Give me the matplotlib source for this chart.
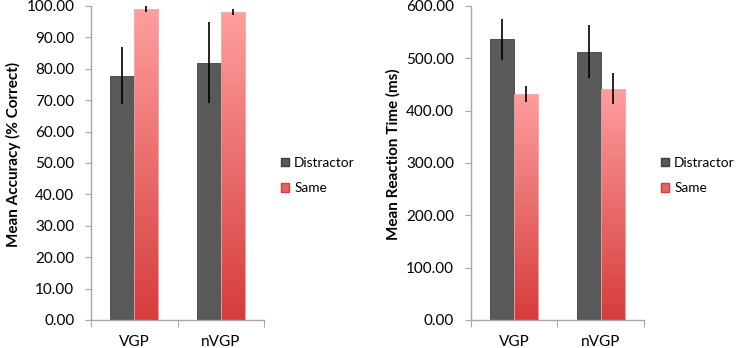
import numpy as np
import matplotlib
matplotlib.use("Agg")
import matplotlib.pyplot as plt
import matplotlib.patches as mpatches
from matplotlib.colors import LinearSegmentedColormap
from matplotlib.ticker import FixedLocator, FormatStrFormatter

# ── Data ────────────────────────────────────────────────────────────────────
groups = ["VGP", "nVGP"]
series = ["Distractor", "Same"]

acc_distractor = [77.8, 82.0]
acc_distractor_err = [9.0, 13.0]
acc_same = [99.0, 98.0]
acc_same_err = [1.0, 0.9]

rt_distractor = [536.0, 513.0]
rt_distractor_err = [39.0, 50.0]
rt_same = [432.0, 442.0]
rt_same_err = [16.0, 30.0]

# ── Style ───────────────────────────────────────────────────────────────────
plt.rcParams.update({
    "font.family": ["Lato", "DejaVu Sans"],
    "axes.spines.top": False,
    "axes.spines.right": False,
})

DARK = "#595959"
DARK_EDGE = "#3f3f3f"
RED_GRAD = LinearSegmentedColormap.from_list("same", ["#d63c3c", "#ff9e9e"])
AXIS_GREY = "#a6a6a6"
BAR_W = 0.2775


def gradient_bars(ax, x, heights):
    bars = ax.bar(x, heights, width=BAR_W, color="none", edgecolor="#f2b0b0",
                  linewidth=0.6, zorder=2)
    grad = np.linspace(0, 1, 256).reshape(-1, 1)
    for b in bars:
        x0, w, h = b.get_x(), b.get_width(), b.get_height()
        im = ax.imshow(grad, cmap=RED_GRAD, origin="lower", aspect="auto",
                       extent=(x0, x0 + w, 0, h), zorder=1.5)
        im.set_clip_path(b)
    return bars


def panel(ax, dist, dist_err, same, same_err, ymax, step, ylabel):
    x = np.arange(len(groups))
    ax.bar(x - BAR_W / 2, dist, width=BAR_W, color=DARK, edgecolor=DARK_EDGE,
           linewidth=0.6, zorder=2)
    gradient_bars(ax, x + BAR_W / 2, same)
    ax.errorbar(x - BAR_W / 2, dist, yerr=dist_err, fmt="none", ecolor="black",
                elinewidth=1.2, capsize=0, zorder=3)
    ax.errorbar(x + BAR_W / 2, same, yerr=same_err, fmt="none", ecolor="black",
                elinewidth=1.2, capsize=0, zorder=3)

    ax.set_xlim(-0.5, len(groups) - 0.5)
    ax.set_ylim(0, ymax)
    ax.set_yticks(np.arange(0, ymax + step / 2, step))
    ax.yaxis.set_major_formatter(FormatStrFormatter("%.2f"))
    ax.xaxis.set_major_locator(FixedLocator(np.arange(-0.5, len(groups), 1.0)))
    ax.xaxis.set_major_formatter(plt.NullFormatter())
    ax.set_xticks(x, minor=True)
    ax.set_xticklabels(groups, minor=True)
    ax.tick_params(axis="x", which="minor", length=0, pad=11, labelsize=11)
    ax.tick_params(axis="x", which="major", length=5, color=AXIS_GREY, direction="out")
    ax.tick_params(axis="y", length=4, color=AXIS_GREY, labelsize=11, pad=8)
    for s in ("left", "bottom"):
        ax.spines[s].set_color(AXIS_GREY)
        ax.spines[s].set_linewidth(1.0)
    ax.set_ylabel(ylabel, fontsize=11, fontweight="bold", labelpad=4, y=0.527)

    handles = [
        mpatches.Patch(facecolor=DARK, edgecolor=DARK_EDGE, label=series[0]),
        mpatches.Patch(facecolor="#e86464", edgecolor="#d63c3c", label=series[1]),
    ]
    ax.legend(handles=handles, loc="center left", bbox_to_anchor=(1.045, 0.46),
              frameon=False, fontsize=9.8, handlelength=0.6, handleheight=0.6,
              handletextpad=0.35, labelspacing=1.0, borderpad=0.2)


fig = plt.figure(figsize=(7.37, 3.48), dpi=100)
ax1 = fig.add_axes([0.1235, 0.0805, 0.2347, 0.9023])
ax2 = fig.add_axes([0.6387, 0.0805, 0.2351, 0.9023])

panel(ax1, acc_distractor, acc_distractor_err, acc_same, acc_same_err,
      100, 10, "Mean Accuracy (% Correct)")
panel(ax2, rt_distractor, rt_distractor_err, rt_same, rt_same_err,
      600, 100, "Mean Reaction Time (ms)")

fig.savefig("out.png", dpi=100)
